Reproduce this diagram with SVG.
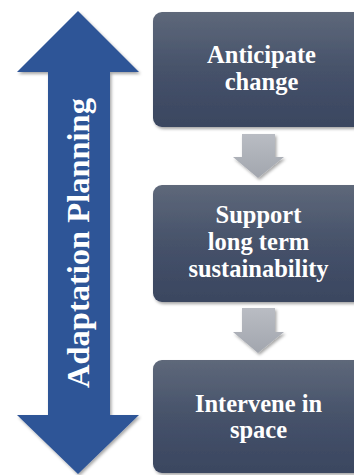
<svg xmlns="http://www.w3.org/2000/svg" width="354" height="475" viewBox="0 0 354 475">
<defs>
<linearGradient id="boxg" x1="0" y1="0" x2="0" y2="1">
<stop offset="0" stop-color="#5e687a"/>
<stop offset="0.5" stop-color="#46526a"/>
<stop offset="1" stop-color="#3a4660"/>
</linearGradient>
<linearGradient id="grayg" x1="0" y1="0" x2="0" y2="1">
<stop offset="0" stop-color="#b9bcc3"/>
<stop offset="1" stop-color="#a2a6ae"/>
</linearGradient>
<filter id="sh" x="-10%" y="-10%" width="125%" height="125%">
<feDropShadow dx="1.5" dy="2" stdDeviation="1.8" flood-color="#000" flood-opacity="0.35"/>
</filter>
</defs>
<style>
.box{fill:url(#boxg);filter:url(#sh)}
.lbl{font-family:"Liberation Serif","Times New Roman",serif;font-weight:bold;font-size:24.5px;fill:#ffffff;text-anchor:middle}
.garrow{fill:url(#grayg);filter:url(#sh)}
</style>
<rect width="354" height="475" fill="#ffffff"/>
<g id="adaptation-arrow">
<polygon points="78,11 139,72 110,72 110,415 139,415 78,474 17,415 48,415 48,72 17,72" fill="#2f5597" filter="url(#sh)"/>
<text x="0" y="0" transform="translate(89,243) rotate(-90)" font-family="'Liberation Serif','Times New Roman',serif" font-weight="bold" font-size="32.5" fill="#ffffff" text-anchor="middle">Adaptation Planning</text>
</g>
<g id="connectors">
<polygon class="garrow" points="242,134 275,134 275,157 284,157 258,178 233,157 242,157"/>
<polygon class="garrow" points="242,308 275,308 275,332 284,332 258,353 233,332 242,332"/>
</g>
<g id="node-anticipate">
<rect class="box" x="153" y="12" width="212" height="115" rx="9"/>
<text class="lbl" x="261.5" y="63">Anticipate</text>
<text class="lbl" x="261.5" y="90">change</text>
</g>
<g id="node-support">
<rect class="box" x="153" y="185" width="212" height="117" rx="9"/>
<text class="lbl" x="258.5" y="223">Support</text>
<text class="lbl" x="258.5" y="250">long term</text>
<text class="lbl" x="258.5" y="277">sustainability</text>
</g>
<g id="node-intervene">
<rect class="box" x="153" y="360" width="212" height="113" rx="9"/>
<text class="lbl" x="258.5" y="412">Intervene in</text>
<text class="lbl" x="258.5" y="438">space</text>
</g>
</svg>
